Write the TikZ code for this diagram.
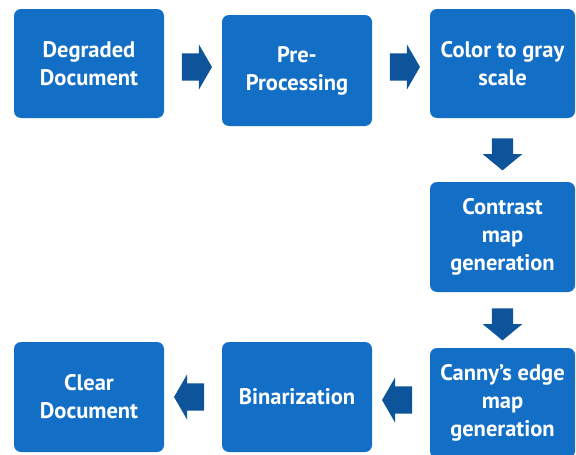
\documentclass[tikz,border=0pt]{standalone}
\usepackage{fontspec}
\setmainfont{PT Sans}
\usetikzlibrary{shapes.arrows,positioning}
\definecolor{boxblue}{RGB}{18,111,197}
\definecolor{arrowblue}{RGB}{14,84,154}

\begin{document}
\begin{tikzpicture}[
    x=1pt, y=-1pt,
    font=\fontsize{22.5}{28}\selectfont\bfseries,
    stage/.style={rectangle, rounded corners=7pt, fill=boxblue, text=white,
        minimum width=150pt, minimum height=110pt, align=center, inner sep=2pt},
    blockarrow/.style={single arrow, fill=arrowblue, draw=none},
    goright/.style={blockarrow, inner xsep=0pt, inner ysep=13.5pt, minimum height=30pt,
        single arrow head extend=9pt, single arrow tip angle=120},
    goleft/.style={goright, shape border rotate=180},
    godown/.style={blockarrow, shape border rotate=270, inner xsep=10.5pt, inner ysep=0pt,
        minimum height=32pt, single arrow head extend=9pt, single arrow tip angle=101}
]
    \useasboundingbox (0,0) rectangle (576,455);

    % top row
    \node[stage, minimum height=109pt] (degraded) at (89,63.5) {Degraded\\Document};
    \node[stage, minimum height=111pt] (preproc) at (297,70.5) {Pre-\\Processing};
    \node[stage, minimum width=145pt, minimum height=109pt] (gray) at (502.5,63.5) {Color to gray\\scale};

    % right column
    \node[stage, minimum width=145pt] (contrast) at (502.5,237) {Contrast\\map\\generation};
    \node[stage, minimum width=145pt] (canny) at (502.5,403) {Canny’s edge\\map\\generation};

    % bottom row
    \node[stage] (binar) at (297,397) {Binarization};
    \node[stage] (clear) at (89,397) {Clear\\Document};

    % block arrows
    \path (degraded) -- node[goright] (a1) {} (preproc);
    \path (preproc) -- node[goright] (a2) {} (gray);
    \path (gray) -- node[godown] (a3) {} (contrast);
    \path (contrast) -- node[godown] (a4) {} (canny);
    \path (canny) -- node[goleft] (a5) {} (binar);
    \path (binar) -- node[goleft] (a6) {} (clear);
\end{tikzpicture}
\end{document}
